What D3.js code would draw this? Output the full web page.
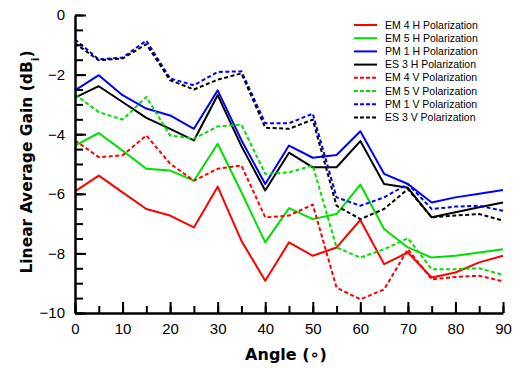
<!DOCTYPE html>
<html>
<head>
<meta charset="utf-8">
<script src="https://cdn.jsdelivr.net/npm/d3@7"></script>
<style>
  body { margin: 0; background: #fff; }
  svg { display: block; font-family: "DejaVu Sans", Verdana, sans-serif; }
  .axis .domain { stroke: #000; stroke-width: 2.5; }
  .axis line { stroke: #000; stroke-width: 2; }
  .axis text { font-size: 15px; fill: #000; }
  .series { fill: none; stroke-width: 2; stroke-linejoin: round; }
  .legend text { font-family: "Liberation Sans", Arial, sans-serif; font-size: 10.5px; }
</style>
</head>
<body>
<div id="chart"></div>
<script>
// angle in degrees
const angles = [0, 5, 10, 15, 20, 25, 30, 35, 40, 45, 50, 55, 60, 65, 70, 75, 80, 85, 90];

const em4H = [-5.92, -5.39, -5.95, -6.51, -6.73, -7.13, -5.76, -7.58, -8.92, -7.63, -8.08, -7.80, -6.88, -8.36, -7.97, -8.81, -8.64, -8.30, -8.08];
const em5H = [-4.38, -3.96, -4.55, -5.16, -5.22, -5.56, -4.32, -5.95, -7.63, -6.48, -6.85, -6.68, -5.69, -7.18, -7.80, -8.14, -8.08, -7.97, -7.86];
const pm1H = [-2.53, -2.02, -2.69, -3.14, -3.37, -3.82, -2.53, -4.20, -5.67, -4.38, -4.79, -4.70, -3.90, -5.33, -5.67, -6.29, -6.12, -6.00, -5.87];
const es3H = [-2.77, -2.39, -2.92, -3.45, -3.82, -4.21, -2.69, -4.40, -5.89, -4.62, -5.11, -5.11, -4.23, -5.67, -5.80, -6.79, -6.62, -6.45, -6.29];
const em4V = [-4.21, -4.77, -4.71, -4.04, -4.99, -5.56, -5.16, -5.05, -6.79, -6.73, -6.36, -9.15, -9.54, -9.21, -7.86, -8.87, -8.79, -8.75, -8.94];
const em5V = [-2.66, -3.26, -3.51, -2.75, -4.04, -4.15, -3.74, -3.68, -5.33, -5.28, -5.05, -7.80, -8.14, -7.86, -7.49, -8.53, -8.53, -8.50, -8.72];
const pm1V = [-0.82, -1.49, -1.43, -0.86, -2.13, -2.36, -1.91, -1.89, -3.63, -3.63, -3.31, -6.12, -6.40, -6.12, -5.67, -6.51, -6.43, -6.40, -6.57];
const es3V = [-0.95, -1.52, -1.46, -0.98, -2.19, -2.50, -2.17, -1.96, -3.78, -3.82, -3.51, -6.40, -6.85, -6.51, -5.84, -6.79, -6.73, -6.68, -6.90];

const seriesNames = [
  "EM 4 H Polarization", "EM 5 H Polarization", "PM 1 H Polarization", "ES 3 H Polarization",
  "EM 4 V Polarization", "EM 5 V Polarization", "PM 1 V Polarization", "ES 3 V Polarization"
];
const seriesValues = [em4H, em5H, pm1H, es3H, em4V, em5V, pm1V, es3V];
const seriesColors = ["#ff0000", "#00e000", "#0000ff", "#000000", "#ff0000", "#00e000", "#0000ff", "#000000"];
const seriesDashed = [false, false, false, false, true, true, true, true];

const xMajorTicks = [0, 10, 20, 30, 40, 50, 60, 70, 80, 90];
const yMajorTicks = [0, -2, -4, -6, -8, -10];

const WIDTH = 515, HEIGHT = 368;
const M = { left: 75, right: 12, top: 15, bottom: 55 };
const W = WIDTH - M.left - M.right;
const H = HEIGHT - M.top - M.bottom;

const svg = d3.select("#chart").append("svg")
  .attr("width", WIDTH).attr("height", HEIGHT);

const x = d3.scaleLinear().domain([0, 90]).range([0, W]);
const y = d3.scaleLinear().domain([-10, 0]).range([H, 0]);

const g = svg.append("g").attr("transform", `translate(${M.left},${M.top})`);

// lines
const line = d3.line()
  .x((d, i) => x(angles[i]))
  .y(d => y(d));

g.selectAll("path.series")
  .data(seriesValues)
  .join("path")
  .attr("class", "series")
  .attr("d", line)
  .attr("stroke", (d, i) => seriesColors[i])
  .attr("stroke-dasharray", (d, i) => seriesDashed[i] ? "4,2.5" : null);

// minor ticks first, then major with labels
const xMinor = d3.range(0, 91, 5);
const yMinor = d3.range(0, 21).map(i => -i * 0.5);

g.append("g").attr("class", "axis")
  .attr("transform", `translate(0,${H})`)
  .call(d3.axisBottom(x).tickValues(xMinor).tickSize(-7).tickSizeOuter(0).tickFormat(""))
  .call(a => a.select(".domain").remove());
g.append("g").attr("class", "axis")
  .attr("transform", `translate(0,${H})`)
  .call(d3.axisBottom(x).tickValues(xMajorTicks).tickSize(-11).tickSizeOuter(0).tickPadding(10));

g.append("g").attr("class", "axis")
  .call(d3.axisLeft(y).tickValues(yMinor).tickSize(-8).tickSizeOuter(0).tickFormat(""))
  .call(a => a.select(".domain").remove());
g.append("g").attr("class", "axis")
  .call(d3.axisLeft(y).tickValues(yMajorTicks).tickSize(-11).tickSizeOuter(0).tickPadding(10));

// axis titles
svg.append("text")
  .attr("x", M.left + W / 2 - 3).attr("y", 360)
  .attr("text-anchor", "middle")
  .style("font-size", "16px").style("font-weight", "bold")
  .text("Angle (\u2218)");

const yTitle = svg.append("text")
  .attr("transform", "translate(32,162) rotate(-90)")
  .attr("text-anchor", "middle")
  .style("font-size", "15.5px").style("font-weight", "bold");
yTitle.append("tspan").text("Linear Average Gain (dB");
yTitle.append("tspan").attr("baseline-shift", "sub").style("font-size", "11px").text("i");
yTitle.append("tspan").text(")");

// legend
const legend = svg.append("g").attr("class", "legend").attr("transform", "translate(354,25)");
const items = legend.selectAll("g.item")
  .data(seriesNames)
  .join("g")
  .attr("class", "item")
  .attr("transform", (d, i) => `translate(0,${i * 13.2})`);
items.append("line")
  .attr("x1", 0).attr("x2", 23).attr("y1", 0).attr("y2", 0)
  .attr("stroke", (d, i) => seriesColors[i])
  .attr("stroke-width", 2)
  .attr("stroke-dasharray", (d, i) => seriesDashed[i] ? "4,2" : null);
items.append("text")
  .attr("x", 31).attr("y", 0).attr("dy", "0.35em")
  .text(d => d);
</script>
</body>
</html>
